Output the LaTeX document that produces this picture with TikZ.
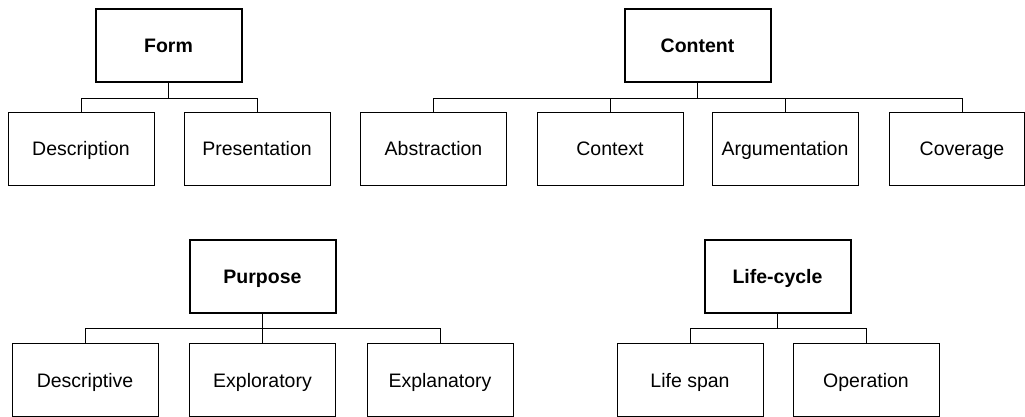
\documentclass[tikz,border=0pt]{standalone}
\usepackage{fontspec}
\setmainfont{Liberation Sans}
\begin{document}
\begin{tikzpicture}[x=1pt,y=-1pt,
  every node/.style={font=\fontsize{19.5}{22}\selectfont},
  parentbox/.style={draw, line width=2pt, minimum width=146pt, minimum height=73pt, inner sep=0pt,
    text height=14pt, text depth=0pt, font=\fontsize{19.5}{22}\selectfont\bfseries},
  childbox/.style={draw, line width=0.9pt, minimum width=146pt, minimum height=73pt, inner sep=0pt,
    text height=14pt, text depth=0pt},
  link/.style={line width=0.9pt}]
\useasboundingbox (0,0) rectangle (1025,417);

% Form
\node[parentbox] (form) at (168.5,45.5) {Form};
\node[childbox] (desc) at (81,148.5) {Description};
\node[childbox] (pres) at (257,148.5) {Presentation};

% Content
\node[parentbox] (content) at (697.5,45.5) {Content};
\node[childbox] (abst) at (433.5,148.5) {Abstraction};
\node[childbox] (ctx) at (610,148.5) {Context};
\node[childbox] (arg) at (785,148.5) {Argumentation};
\node[childbox, minimum width=135pt] (cov) at (956.5,148.5) {\hspace*{11pt}Coverage};

% Purpose
\node[parentbox] (purp) at (262.5,276) {Purpose};
\node[childbox] (descr) at (85,380) {Descriptive};
\node[childbox] (explo) at (262.5,380) {Exploratory};
\node[childbox] (expla) at (440,380) {Explanatory};

% Life-cycle
\node[parentbox] (life) at (777.5,276) {Life-cycle};
\node[childbox] (span) at (690,380) {Life span};
\node[childbox] (oper) at (866,380) {Operation};

% connectors: stem down from the parent, then across and down to each child
\foreach \p/\c in {form/desc, form/pres,
                   purp/descr, purp/explo, purp/expla,
                   life/span, life/oper}
  \draw[link] (\p.south) -- ++(0,15) -| (\c.north);
\foreach \c/\x in {abst/433.5, ctx/610, arg/785, cov/962}
  \draw[link] (content.south) -- ++(0,15) -| (\c.north -| \x,0);
\end{tikzpicture}
\end{document}
